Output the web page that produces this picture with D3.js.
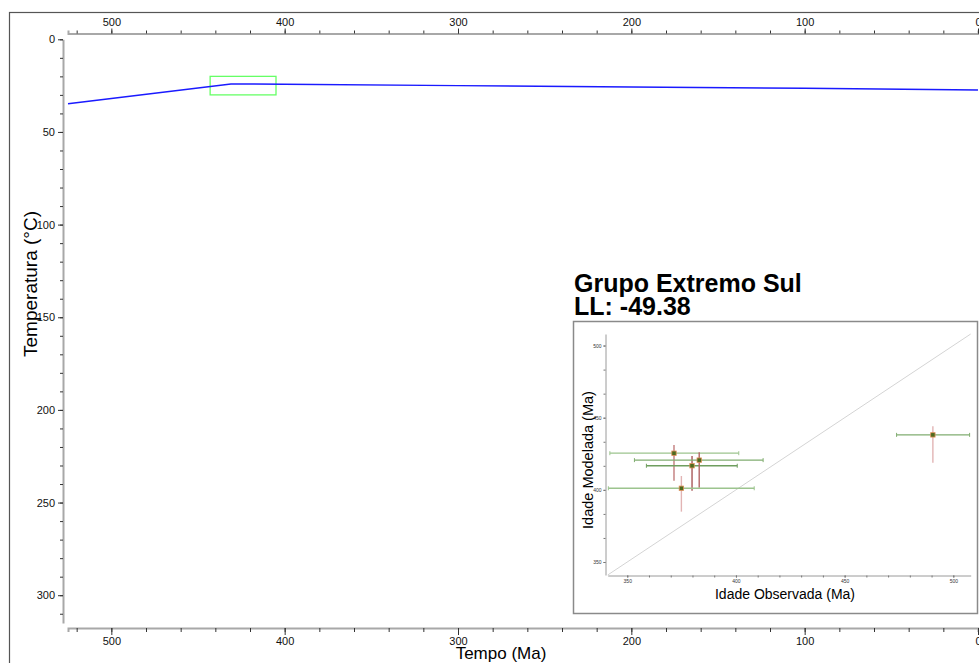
<!DOCTYPE html>
<html>
<head>
<meta charset="utf-8">
<script src="https://cdn.jsdelivr.net/npm/d3@7"></script>
<style>
  body { margin: 0; background: #fff; }
  text { font-family: "Liberation Sans", Arial, sans-serif; }
  .tick text { font-family: "Liberation Sans Narrow", "Liberation Sans", Arial, sans-serif; }
</style>
</head>
<body>
<div id="viz"></div>
<script>
// thermal history path (time Ma, temperature °C)
const pathTime = [525, 431, 400, 300, 200, 100, 0];
const pathTemp = [34.8, 24.1, 24.2, 25.0, 25.7, 26.4, 27.4];

// constraint box
const boxTime = [443, 405];
const boxTemp = [20, 30];

// inset: observed vs modelled ages
const obsAge = [371.5, 379.8, 383.1, 374.9, 490.6];
const obsLow = [342.0, 358.8, 353.3, 341.3, 473.9];
const obsHigh = [401.3, 400.6, 412.5, 408.4, 507.5];
const modAge = [425.4, 416.7, 420.6, 401.1, 438.1];
const modLow = [406.3, 399.4, 401.5, 384.9, 418.7];
const modHigh = [431.0, 423.4, 426.1, 409.6, 444.1];

const timeTicks = [500, 400, 300, 200, 100, 0];
const tempTicks = [0, 50, 100, 150, 200, 250, 300];
const insetTicks = [350, 400, 450, 500];

const title = "Grupo Extremo Sul";
const llText = "LL: -49.38";

// per-point bar shading (horizontal green / vertical red)
const hShade = ["#9cc48e", "#6f9e5f", "#80ad70", "#9cc48e", "#80ad70"];
const vShade = ["#c27c7c", "#a85858", "#b46868", "#e2b4b4", "#e2b4b4"];

const width = 979, height = 663;
const svg = d3.select("#viz").append("svg")
    .attr("width", width)
    .attr("height", height);

// outer frame
svg.append("rect")
    .attr("x", 9.5).attr("y", 12.5)
    .attr("width", 1000).attr("height", 700)
    .attr("fill", "none").attr("stroke", "#555").attr("stroke-width", 1.2);

const x = d3.scaleLinear().domain([525, 0]).range([68, 978]);
const y = d3.scaleLinear().domain([0, 315]).range([39.3, 623]);

function styleAxis(g) {
    g.select(".domain").attr("stroke", "#a8a8a8").attr("stroke-width", 2);
    g.selectAll(".tick line").attr("stroke", "#333");
    g.selectAll(".tick text").attr("fill", "#111").style("font-size", "11px");
}

// top axis
svg.append("g").attr("transform", "translate(0,33.5)")
    .call(d3.axisTop(x).tickValues(d3.range(520, -1, -20)).tickSize(3).tickFormat(""))
    .call(styleAxis);
svg.append("g").attr("transform", "translate(0,33.5)")
    .call(d3.axisTop(x).tickValues(timeTicks).tickSize(5).tickSizeOuter(0).tickPadding(3))
    .call(styleAxis)
    .call(g => g.select(".domain").remove());

// bottom axis
svg.append("g").attr("transform", "translate(0,628)")
    .call(d3.axisBottom(x).tickValues(d3.range(520, -1, -20)).tickSize(4).tickFormat(""))
    .call(styleAxis);
svg.append("g").attr("transform", "translate(0,628)")
    .call(d3.axisBottom(x).tickValues(timeTicks).tickSize(7).tickSizeOuter(0).tickPadding(2))
    .call(styleAxis)
    .call(g => g.select(".domain").remove());

// left axis
svg.append("g").attr("transform", "translate(63,0)")
    .call(d3.axisLeft(y).tickValues(d3.range(0, 315, 10)).tickSize(3).tickSizeOuter(0).tickFormat(""))
    .call(styleAxis);
svg.append("g").attr("transform", "translate(63,0)")
    .call(d3.axisLeft(y).tickValues(tempTicks).tickSize(5).tickSizeOuter(0).tickPadding(3))
    .call(styleAxis)
    .call(g => g.select(".domain").remove());

svg.append("text")
    .attr("transform", "translate(37," + 284 + ") rotate(-90)")
    .attr("text-anchor", "middle")
    .style("font-size", "19px")
    .text("Temperatura (°C)");

svg.append("text")
    .attr("x", 501).attr("y", 659)
    .attr("text-anchor", "middle")
    .style("font-size", "17px")
    .text("Tempo (Ma)");

// constraint box
svg.append("rect")
    .attr("x", x(boxTime[0])).attr("y", y(boxTemp[0]))
    .attr("width", x(boxTime[1]) - x(boxTime[0]))
    .attr("height", y(boxTemp[1]) - y(boxTemp[0]))
    .attr("fill", "none").attr("stroke", "#66ff66").attr("stroke-width", 1.3);

// thermal path
const line = d3.line().x(d => x(d[0])).y(d => y(d[1]));
svg.append("path")
    .datum(pathTime.map((t, i) => [t, pathTemp[i]]))
    .attr("d", line)
    .attr("fill", "none").attr("stroke", "#1a1aff").attr("stroke-width", 1.5);

// inset
svg.append("text").attr("x", 574).attr("y", 292)
    .style("font-size", "25px").style("font-weight", "bold")
    .text(title);
svg.append("text").attr("x", 574).attr("y", 315)
    .style("font-size", "25px").style("font-weight", "bold")
    .text(llText);

svg.append("rect")
    .attr("x", 573.5).attr("y", 321.5)
    .attr("width", 404).attr("height", 292)
    .attr("fill", "#fff").attr("stroke", "#8a8a8a").attr("stroke-width", 1.5);

const ix = d3.scaleLinear().domain([341, 508]).range([607.7, 970.7]);
const iy = d3.scaleLinear().domain([341, 508]).range([575, 334]);

function styleInset(g) {
    g.select(".domain").attr("stroke", "#9a9a9a").attr("stroke-width", 1);
    g.selectAll(".tick line").attr("stroke", "#777");
    g.selectAll(".tick text").attr("fill", "#333").style("font-size", "5px");
}

svg.append("g").attr("transform", "translate(0,575.5)")
    .call(d3.axisBottom(ix).tickValues(d3.range(350, 508, 10)).tickSize(2).tickSizeOuter(0).tickFormat(""))
    .call(styleInset);
svg.append("g").attr("transform", "translate(0,575.5)")
    .call(d3.axisBottom(ix).tickValues(insetTicks).tickSize(2).tickPadding(2))
    .call(styleInset)
    .call(g => g.select(".domain").remove());

svg.append("g").attr("transform", "translate(605.5,0)")
    .call(d3.axisLeft(iy).tickValues(d3.range(350, 508, 50 / 3)).tickSize(2).tickSizeOuter(0).tickFormat(""))
    .call(styleInset);
svg.append("g").attr("transform", "translate(605.5,0)")
    .call(d3.axisLeft(iy).tickValues(insetTicks).tickSize(2).tickPadding(2))
    .call(styleInset)
    .call(g => g.select(".domain").remove());

svg.append("text").attr("x", 785).attr("y", 599)
    .attr("text-anchor", "middle").style("font-size", "14px")
    .text("Idade Observada (Ma)");
svg.append("text")
    .attr("transform", "translate(593,460) rotate(-90)")
    .attr("text-anchor", "middle").style("font-size", "14.5px")
    .text("Idade Modelada (Ma)");

// 1:1 line
svg.append("line")
    .attr("x1", ix(341)).attr("y1", iy(341))
    .attr("x2", ix(508)).attr("y2", iy(508))
    .attr("stroke", "#d4d4d4").attr("stroke-width", 1);

const pts = obsAge.map((o, i) => ({
    o, m: modAge[i], oL: obsLow[i], oH: obsHigh[i], mL: modLow[i], mH: modHigh[i], i
}));

const gp = svg.append("g").selectAll("g").data(pts).enter().append("g");

gp.append("line")
    .attr("x1", d => ix(d.oL)).attr("x2", d => ix(d.oH))
    .attr("y1", d => iy(d.m)).attr("y2", d => iy(d.m))
    .attr("stroke", d => hShade[d.i]).attr("stroke-width", 1.3);
gp.selectAll(".cap").data(d => [[d.oL, d.m, d.i], [d.oH, d.m, d.i]]).enter()
    .append("line")
    .attr("x1", c => ix(c[0])).attr("x2", c => ix(c[0]))
    .attr("y1", c => iy(c[1]) - 2).attr("y2", c => iy(c[1]) + 2)
    .attr("stroke", c => hShade[c[2]]).attr("stroke-width", 1);

gp.append("line")
    .attr("x1", d => ix(d.o)).attr("x2", d => ix(d.o))
    .attr("y1", d => iy(d.mL)).attr("y2", d => iy(d.mH))
    .attr("stroke", d => vShade[d.i]).attr("stroke-width", 1.4);

gp.append("rect")
    .attr("x", d => ix(d.o) - 2.2).attr("y", d => iy(d.m) - 2.2)
    .attr("width", 4.4).attr("height", 4.4)
    .attr("fill", "#4d6a1e").attr("stroke", "#e0905a").attr("stroke-width", 0.8);
</script>
</body>
</html>
